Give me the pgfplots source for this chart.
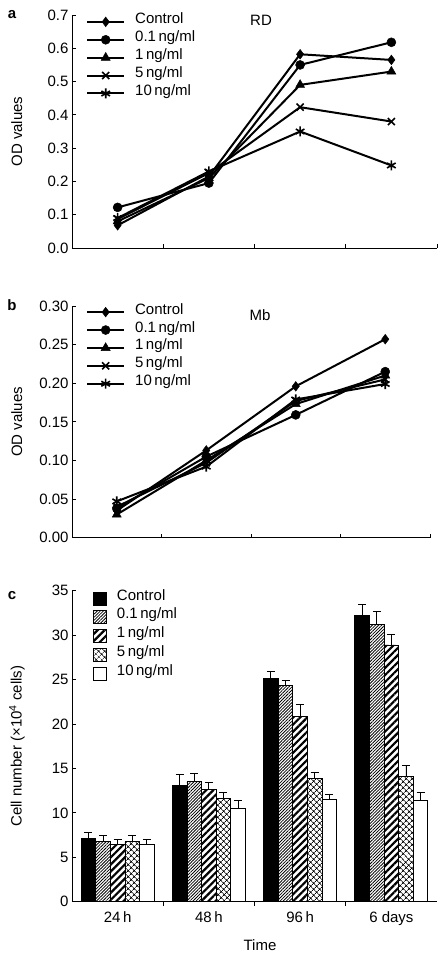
\documentclass[border=0pt]{standalone}
\usepackage{fontspec}
\setmainfont{Liberation Sans}
\usepackage{pgfplots}
\pgfplotsset{compat=1.18}
\usetikzlibrary{patterns.meta}

\newcommand\fs{\fontsize{15}{18}\selectfont}

\pgfplotsset{
  myaxis/.style={
    scale only axis, axis lines=left, axis line style={-, line width=0.8pt},
    tick align=inside, major tick length=4pt, tick style={line width=0.8pt, black},
    xmin=0, xmax=4,
    tick label style={font=\fs}, label style={font=\fs},
    /pgf/number format/assume math mode=true,
    every axis y label/.style={at={(axis description cs:-0.151,0.5)}, rotate=90, anchor=center, font=\fs},
    clip=false,
  },
  linestyle/.style={
    legend cell align=left,
    legend style={draw=none, fill=none, font=\fs, column sep=10pt, row sep=0pt, inner sep=0pt,
      nodes={inner sep=0pt, text height=11pt, text depth=6.9pt}},
    every axis plot/.append style={line width=2pt, black},
  },
  m1/.style={mark=diamond*, mark size=4.8pt, mark options={line width=0.5pt, solid}},
  m2/.style={mark=*, mark size=4.5pt, mark options={line width=0.5pt, solid}},
  m3/.style={mark=triangle*, mark size=5.2pt, mark options={line width=0.5pt, solid}},
  m4/.style={mark=x, mark size=5pt, mark options={line width=1.6pt, solid}},
  m5/.style={mark=asterisk, mark size=5pt, mark options={line width=1.6pt, solid}},
  eb/.style={error bars/.cd, y dir=plus, y explicit,
    error bar style={line width=0.9pt, black},
    error mark options={rotate=90, mark size=4pt, line width=0.9pt, black}},
}

\begin{document}
\begin{tikzpicture}
\path[use as bounding box] (0,0) rectangle (442pt,954pt);

% panel letters
\node[font=\fs\bfseries] at (12pt,939pt) {a};
\node[font=\fs\bfseries] at (12pt,649pt) {b};
\node[font=\fs\bfseries] at (12pt,358pt) {c};

% ---------- panel a ----------
\begin{axis}[myaxis, linestyle, at={(72pt,706pt)}, anchor=south west,
  width=365pt, height=233pt, ymin=0, ymax=0.7,
  ytick={0,0.1,0.2,0.3,0.4,0.5,0.6,0.7},
  yticklabel style={/pgf/number format/.cd, fixed, fixed zerofill, precision=1},
  xtick={1,2,3,4}, xticklabels={},
  ylabel={OD values},
  legend image code/.code={\draw[#1] (0pt,0pt) -- (37pt,0pt); \draw[#1] plot coordinates {(18.5pt,0pt)};},
  legend style={at={(axis description cs:0.0384,1.0097)}, anchor=north west}]
\addplot[m1] coordinates {(0.5,0.068) (1.5,0.215) (2.5,0.582) (3.5,0.565)};
\addlegendentry{Control}
\addplot[m2] coordinates {(0.5,0.122) (1.5,0.195) (2.5,0.550) (3.5,0.618)};
\addlegendentry{0.1\,ng/ml}
\addplot[m3] coordinates {(0.5,0.080) (1.5,0.210) (2.5,0.490) (3.5,0.530)};
\addlegendentry{1\,ng/ml}
\addplot[m4] coordinates {(0.5,0.087) (1.5,0.225) (2.5,0.423) (3.5,0.380)};
\addlegendentry{5\,ng/ml}
\addplot[m5] coordinates {(0.5,0.090) (1.5,0.230) (2.5,0.350) (3.5,0.248)};
\addlegendentry{10\,ng/ml}
\node[font=\fs] at (axis description cs:0.518,0.979) {RD};
\end{axis}

% ---------- panel b ----------
\begin{axis}[myaxis, linestyle, at={(72pt,416.3pt)}, anchor=south west,
  width=358pt, height=231.7pt, ymin=0, ymax=0.3,
  ytick={0,0.05,0.10,0.15,0.20,0.25,0.30},
  yticklabel style={/pgf/number format/.cd, fixed, fixed zerofill, precision=2},
  xtick={1,2,3,4}, xticklabels={},
  ylabel={OD values},
  every axis y label/.style={at={(axis description cs:-0.154,0.5)}, rotate=90, anchor=center, font=\fs},
  legend image code/.code={\draw[#1] (0pt,0pt) -- (37pt,0pt); \draw[#1] plot coordinates {(18.5pt,0pt)};},
  legend style={at={(axis description cs:0.039,1.013)}, anchor=north west}]
\addplot[m1] coordinates {(0.5,0.035) (1.5,0.113) (2.5,0.196) (3.5,0.257)};
\addlegendentry{Control}
\addplot[m2] coordinates {(0.5,0.038) (1.5,0.105) (2.5,0.159) (3.5,0.215)};
\addlegendentry{0.1\,ng/ml}
\addplot[m3] coordinates {(0.5,0.030) (1.5,0.100) (2.5,0.173) (3.5,0.210)};
\addlegendentry{1\,ng/ml}
\addplot[m4] coordinates {(0.5,0.040) (1.5,0.097) (2.5,0.177) (3.5,0.205)};
\addlegendentry{5\,ng/ml}
\addplot[m5] coordinates {(0.5,0.047) (1.5,0.092) (2.5,0.179) (3.5,0.199)};
\addlegendentry{10\,ng/ml}
\node[font=\fs] at (axis description cs:0.525,0.961) {Mb};
\end{axis}

% ---------- panel c ----------
\begin{axis}[myaxis, at={(72pt,52.3pt)}, anchor=south west,
  width=365pt, height=311pt, ymin=0, ymax=35,
  ytick={0,5,10,15,20,25,30,35},
  xtick={1,2,3}, xticklabels={},
  extra x ticks={0.5,1.5,2.5,3.5},
  extra x tick labels={24\,h,48\,h,96\,h,6 days},
  extra x tick style={major tick length=0pt, tick label style={yshift=-6pt}},
  ybar=0pt, bar width=14.6pt,
  ylabel={Cell number (×10\textsuperscript{4} cells)},
  xlabel={Time},
  every axis x label/.style={at={(axis description cs:0.515,0)}, anchor=center, yshift=-43pt, font=\fs},
  legend image code/.code={\draw[#1] (0pt,-6.5pt) rectangle (13pt,6.5pt);},
  legend cell align=left,
  legend style={draw=none, fill=none, font=\fs, column sep=10pt, row sep=0pt, inner sep=0pt,
    nodes={inner sep=0pt, text height=11pt, text depth=7.75pt},
    at={(axis description cs:0.0575,1.0055)}, anchor=north west}]
\addplot[draw=black, line width=0.8pt, fill=black, eb]
  coordinates {(0.5,7.1) +- (0,0.7) (1.5,13.1) +- (0,1.2) (2.5,25.1) +- (0,0.8) (3.5,32.25) +- (0,1.2)};
\addlegendentry{Control}
\addplot[draw=black, line width=0.8pt, pattern={Lines[angle=45,distance=2.2pt,line width=0.8pt]}, eb]
  coordinates {(0.5,6.75) +- (0,0.75) (1.5,13.5) +- (0,0.9) (2.5,24.3) +- (0,0.6) (3.5,31.2) +- (0,1.5)};
\addlegendentry{0.1\,ng/ml}
\addplot[draw=black, line width=0.8pt, pattern={Lines[angle=45,distance=5pt,line width=2.2pt]}, eb]
  coordinates {(0.5,6.4) +- (0,0.6) (1.5,12.6) +- (0,0.8) (2.5,20.8) +- (0,1.4) (3.5,28.9) +- (0,1.2)};
\addlegendentry{1\,ng/ml}
\addplot[draw=black, line width=0.8pt, pattern={Hatch[angle=45,distance=4pt,line width=0.7pt]}, eb]
  coordinates {(0.5,6.75) +- (0,0.65) (1.5,11.6) +- (0,0.7) (2.5,13.9) +- (0,0.65) (3.5,14.1) +- (0,1.2)};
\addlegendentry{5\,ng/ml}
\addplot[draw=black, line width=0.8pt, fill=white, eb]
  coordinates {(0.5,6.45) +- (0,0.55) (1.5,10.5) +- (0,0.9) (2.5,11.5) +- (0,0.6) (3.5,11.4) +- (0,0.9)};
\addlegendentry{10\,ng/ml}
\end{axis}
\end{tikzpicture}
\end{document}
